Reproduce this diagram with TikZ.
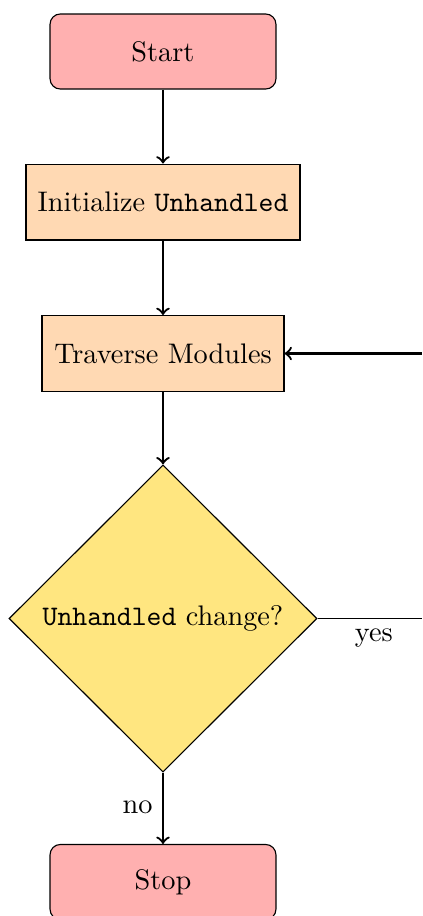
\documentclass[tikz,border=0pt]{standalone}
\usetikzlibrary{shapes.geometric}
\definecolor{termfill}{RGB}{255,176,176}
\definecolor{procfill}{RGB}{255,217,179}
\definecolor{decfill}{RGB}{255,230,128}
\tikzset{
  terminal/.style={draw, rounded corners=3.6pt, fill=termfill, minimum width=79.8pt, minimum height=26.5pt},
  process/.style={draw, fill=procfill, minimum height=26.8pt},
  decision/.style={draw, diamond, fill=decfill, inner sep=0pt, minimum width=108.8pt, minimum height=108.5pt},
  flow/.style={thick, ->},
}
\begin{document}
\begin{tikzpicture}[x=0.3533pt, y=-0.3533pt]
  \clip (0,0) rectangle (422,916);
  \node[terminal] (start) at (163,51.5) {Start};
  \node[process, minimum width=96.8pt] (init) at (163,202) {Initialize \texttt{Unhandled}};
  \node[process, minimum width=85.5pt] (trav) at (163,353.5) {Traverse Modules};
  \node[decision] (dec) at (163,618.5) {\texttt{Unhandled} change?};
  \node[terminal] (stop) at (163,882) {Stop};
  \coordinate (loopin) at (430,353.5);
  \coordinate (loopout) at (430,618.5);

  \draw[flow] (start) -- (init);
  \draw[flow] (init) -- (trav);
  \draw[flow] (trav) -- (dec);
  \draw[flow] (dec) -- node[left, pos=0.48] {no} (stop);
  \draw (dec.east) -- node[below, pos=0.5] {yes} (loopout);
  \draw[flow] (loopin) -- (trav.east);
\end{tikzpicture}
\end{document}
